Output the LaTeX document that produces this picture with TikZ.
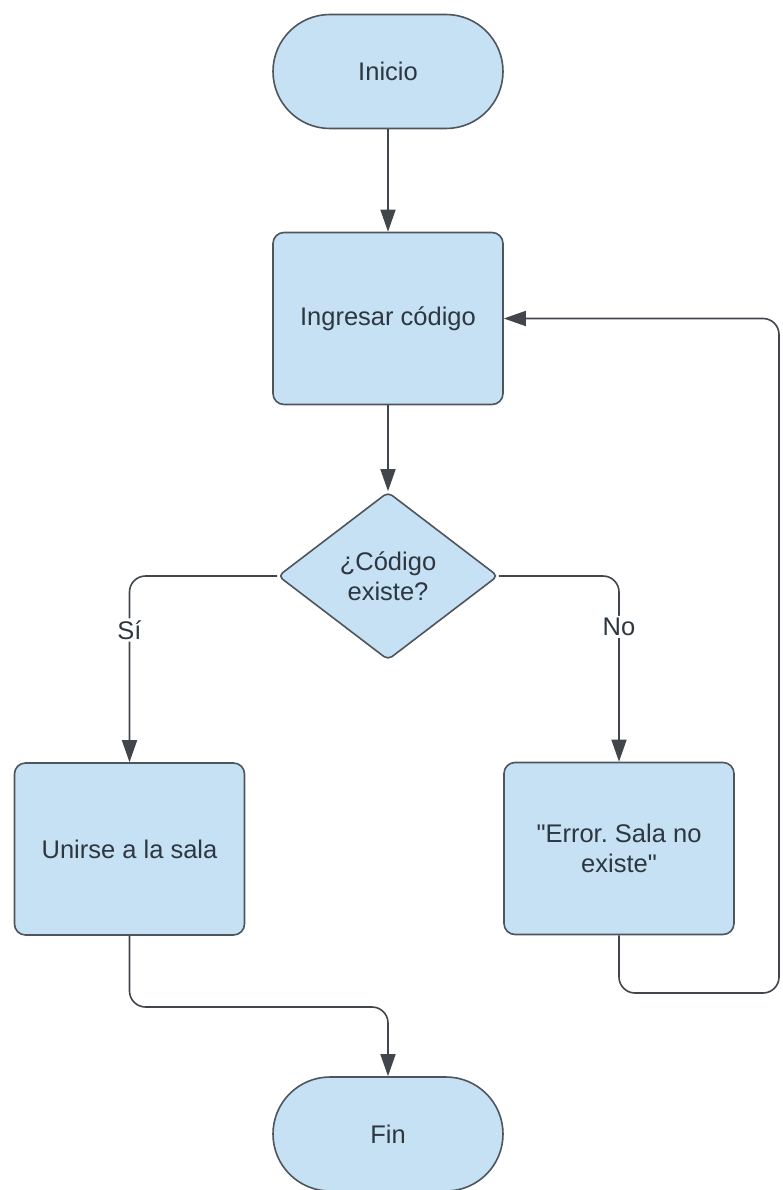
\documentclass[tikz,border=0pt]{standalone}
\usepackage{fontspec}
\setmainfont{Liberation Sans}
\usetikzlibrary{shapes.geometric,shapes.misc,arrows.meta}
\frenchspacing

\definecolor{boxfill}{HTML}{C6E0F4}
\definecolor{boxline}{HTML}{4E555C}
\definecolor{boxtext}{HTML}{2C3740}
\definecolor{wire}{HTML}{41464C}

\tikzset{
  flowtext/.style={font=\fontsize{25.5}{30}\selectfont, text=boxtext, align=center},
  terminal/.style={rounded rectangle, draw=boxline, fill=boxfill, line width=1.6pt,
    minimum width=230pt, minimum height=114pt, inner sep=0pt, flowtext},
  process/.style={rectangle, rounded corners=11pt, draw=boxline, fill=boxfill, line width=1.6pt,
    minimum width=230pt, minimum height=172pt, inner sep=0pt, flowtext},
  decision/.style={diamond, rounded corners=5pt, draw=boxline, fill=boxfill, line width=1.6pt,
    minimum width=220pt, minimum height=168pt, inner sep=0pt, flowtext},
  arr/.style={draw=wire, line width=1.6pt, rounded corners=16pt,
    -{Triangle[length=22pt,width=15pt]}},
  edgelabel/.style={fill=white, inner sep=2pt, flowtext}
}

\begin{document}
\begin{tikzpicture}[x=1pt,y=-1pt]
  \useasboundingbox (0,0) rectangle (782,1190);

  % Nodes
  \node[terminal] (inicio) at (388,71.5) {Inicio};
  \node[process]  (ingresar) at (388,318.5) {Ingresar código};
  \node[decision] (existe) at (388,576) {¿Código\\existe?};
  \node[process]  (unirse) at (129.5,849) {Unirse a la sala};
  \node[process]  (error) at (619,848.5) {\textquotedbl Error. Sala no\\existe\textquotedbl};
  \node[terminal] (fin) at (388,1134) {Fin};

  % Bend points of the routed connectors
  \coordinate (toFin) at (388,1007);
  \coordinate (loopCorner) at (779,993);

  % Connectors
  \draw[arr] (inicio.south) -- (ingresar.north);
  \draw[arr] (ingresar.south) -- (existe.north);
  \draw[arr] (existe.west) -| node[edgelabel, pos=0.645] {Sí} (unirse.north);
  \draw[arr] (existe.east) -| node[edgelabel, pos=0.637] {No} (error.north);
  \draw[arr] (unirse.south) |- (toFin) -- (fin.north);
  \draw[arr] (error.south) |- (loopCorner) |- (ingresar.east);
\end{tikzpicture}
\end{document}
